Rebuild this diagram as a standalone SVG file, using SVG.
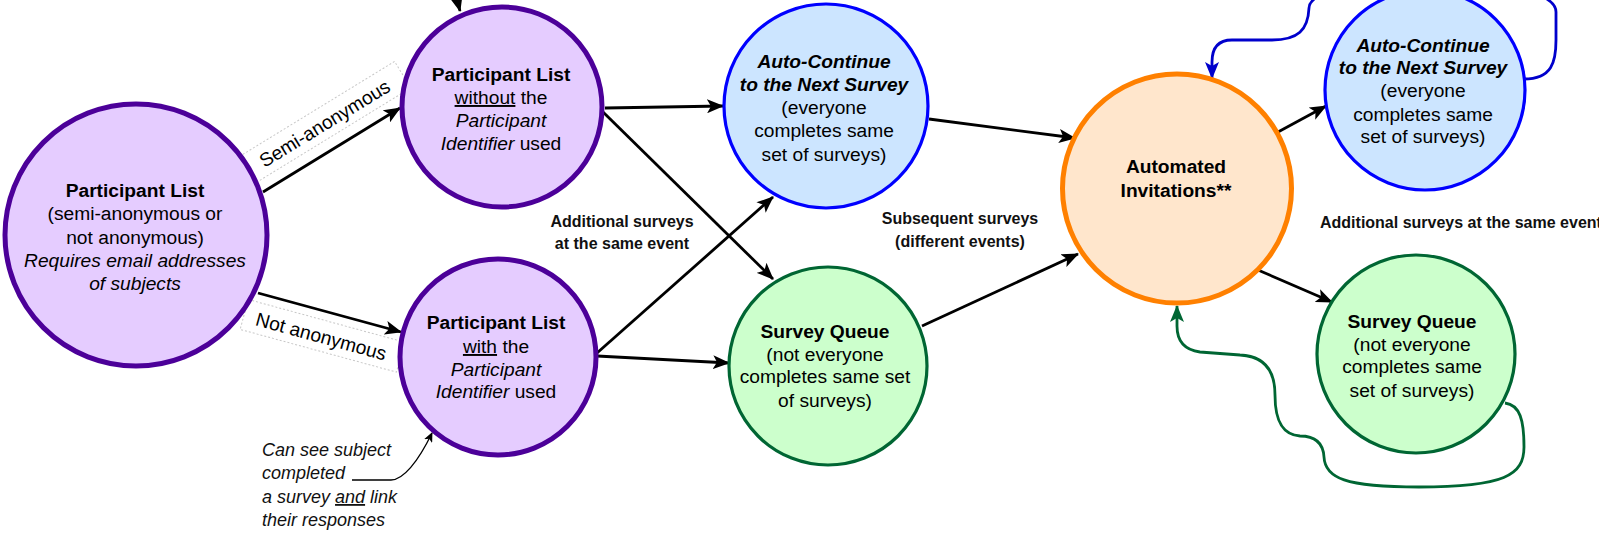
<svg xmlns="http://www.w3.org/2000/svg" width="1599" height="540" viewBox="0 0 1599 540">
<defs>
<style>
text{font-family:"Liberation Sans",Arial,Helvetica,sans-serif;fill:#000}
.n{font-size:19.2px;text-anchor:middle}
.b{font-weight:bold}
.i{font-style:italic}
.u{text-decoration:underline}
.lbl{font-size:16px;font-weight:bold;text-anchor:middle;fill:#111}
.ann{font-size:18px;font-style:italic;fill:#111}
.purple{fill:#E5CCFF;stroke:#4C0099;stroke-width:5}
.blue{fill:#CCE5FF;stroke:#0000FF;stroke-width:3.2}
.green{fill:#CCFFCC;stroke:#006633;stroke-width:3.2}
.orange{fill:#FFE6CC;stroke:#FF8000;stroke-width:5}
.e{fill:none;stroke:#000;stroke-width:2.8;marker-end:url(#ab)}
.lb{fill:#fff;stroke:#c8c8c8;stroke-width:1;stroke-dasharray:2 2}
</style>
<marker id="ab" markerUnits="userSpaceOnUse" markerWidth="17" markerHeight="14" viewBox="0 0 17 14" refX="16" refY="7" orient="auto"><path d="M0,0 L17,7 L0,14 L4,7 z" fill="#000"/></marker>
<marker id="abl" markerUnits="userSpaceOnUse" markerWidth="17" markerHeight="14" viewBox="0 0 17 14" refX="16" refY="7" orient="auto"><path d="M0,0 L17,7 L0,14 L4,7 z" fill="#0000CC"/></marker>
<marker id="agr" markerUnits="userSpaceOnUse" markerWidth="17" markerHeight="14" viewBox="0 0 17 14" refX="16" refY="7" orient="auto"><path d="M0,0 L17,7 L0,14 L4,7 z" fill="#006633"/></marker>
<marker id="asm" markerUnits="userSpaceOnUse" markerWidth="10" markerHeight="9" viewBox="0 0 10 9" refX="9" refY="4.5" orient="auto"><path d="M0,0 L10,4.5 L0,9 L2.5,4.5 z" fill="#000"/></marker>
</defs>

<g id="edge-labels">
<g transform="translate(325,124) rotate(-31.5)">
<rect class="lb" x="-90" y="-17" width="182" height="31"/>
<text x="0" y="6" style="font-size:19.2px;text-anchor:middle">Semi-anonymous</text>
</g>
<g transform="translate(321,337) rotate(15.3)">
<rect class="lb" x="-80" y="-17" width="162" height="31"/>
<text x="0" y="6" style="font-size:19.2px;text-anchor:middle">Not anonymous</text>
</g>
</g>

<g id="connectors">
<path class="e" d="M263,192 L400,108"/>
<path class="e" d="M258,293 L401,332"/>
<path class="e" d="M605,108 L723,106"/>
<path class="e" d="M603,112 L773,279"/>
<path class="e" d="M597,353 L773,197"/>
<path class="e" d="M597,356 L729,363"/>
<path class="e" d="M929,119 L1075,138"/>
<path class="e" d="M922,326 L1078,254"/>
<path class="e" d="M1278,132 L1326,106"/>
<path class="e" d="M1258,270 L1332,302"/>
<path class="e" d="M455,-8 L460,11"/>
<path d="M1524,79 C1552,79 1556,62 1556,40 L1556,12 C1556,-30 1310,-30 1309,8 C1308,30 1298,40 1272,40 L1232,40 C1215,40 1212,52 1212,62 L1212,78" fill="none" stroke="#0000CC" stroke-width="2.8" marker-end="url(#abl)"/>
<path d="M1505,403 C1520,405 1524,420 1524,447 C1524,475 1505,487 1419,487 C1345,487 1325,478 1324,457 C1323,440 1312,436 1300,436 C1285,435 1275,425 1275,395 C1275,368 1262,356 1240,355 L1200,352 C1185,350 1177,342 1177,326 L1177,306" fill="none" stroke="#006633" stroke-width="2.8" marker-end="url(#agr)"/>
<path d="M352,480 L391,480 C403,480 418,462 432,433" fill="none" stroke="#000" stroke-width="1.3" marker-end="url(#asm)"/>
</g>

<g id="node-pl">
<circle class="purple" cx="136" cy="235" r="131"/>
<text class="n" x="135"><tspan class="b" x="135" y="197">Participant List</tspan><tspan x="135" y="220">(semi-anonymous or</tspan><tspan x="135" y="244">not anonymous)</tspan><tspan class="i" x="135" y="267">Requires email addresses</tspan><tspan class="i" x="135" y="290">of subjects</tspan></text>
</g>

<g id="node-without">
<circle class="purple" cx="502" cy="107" r="100"/>
<text class="n" x="501"><tspan class="b" x="501" y="81">Participant List</tspan><tspan x="501" y="104"><tspan class="u">without</tspan> the</tspan><tspan class="i" x="501" y="127">Participant</tspan><tspan x="501" y="150"><tspan class="i">Identifier</tspan> used</tspan></text>
</g>

<g id="node-with">
<circle class="purple" cx="498" cy="357" r="98"/>
<text class="n" x="496"><tspan class="b" x="496" y="329">Participant List</tspan><tspan x="496" y="353"><tspan class="u">with</tspan> the</tspan><tspan class="i" x="496" y="376">Participant</tspan><tspan x="496" y="398"><tspan class="i">Identifier</tspan> used</tspan></text>
</g>

<g id="node-auto1">
<circle class="blue" cx="826" cy="106" r="102"/>
<text class="n" x="824"><tspan class="b i" x="824" y="68">Auto-Continue</tspan><tspan class="b i" x="824" y="91">to the Next Survey</tspan><tspan x="824" y="114">(everyone</tspan><tspan x="824" y="137">completes same</tspan><tspan x="824" y="161">set of surveys)</tspan></text>
</g>

<g id="node-queue1">
<circle class="green" cx="828" cy="366" r="99"/>
<text class="n" x="825"><tspan class="b" x="825" y="338">Survey Queue</tspan><tspan x="825" y="361">(not everyone</tspan><tspan x="825" y="383">completes same set</tspan><tspan x="825" y="407">of surveys)</tspan></text>
</g>

<g id="node-invite">
<circle class="orange" cx="1177" cy="188.5" r="114.5"/>
<text class="n b" x="1176"><tspan x="1176" y="173">Automated</tspan><tspan x="1176" y="197">Invitations**</tspan></text>
</g>

<g id="node-auto2">
<circle class="blue" cx="1425" cy="90" r="100"/>
<text class="n" x="1423"><tspan class="b i" x="1423" y="52">Auto-Continue</tspan><tspan class="b i" x="1423" y="74">to the Next Survey</tspan><tspan x="1423" y="97">(everyone</tspan><tspan x="1423" y="121">completes same</tspan><tspan x="1423" y="143">set of surveys)</tspan></text>
</g>

<g id="node-queue2">
<circle class="green" cx="1416" cy="354" r="99"/>
<text class="n" x="1412"><tspan class="b" x="1412" y="328">Survey Queue</tspan><tspan x="1412" y="351">(not everyone</tspan><tspan x="1412" y="373">completes same</tspan><tspan x="1412" y="397">set of surveys)</tspan></text>
</g>

<g id="labels">
<text class="lbl"><tspan x="622" y="227">Additional surveys</tspan><tspan x="622" y="249">at the same event</tspan></text>
<text class="lbl"><tspan x="960" y="224">Subsequent surveys</tspan><tspan x="960" y="247">(different events)</tspan></text>
<text class="lbl" x="1320" y="228" style="text-anchor:start">Additional surveys at the same event</text>
<text class="ann"><tspan x="262" y="456">Can see subject</tspan><tspan x="262" y="479">completed</tspan><tspan x="262" y="503">a survey <tspan class="u">and</tspan> link</tspan><tspan x="262" y="526">their responses</tspan></text>
</g>
</svg>
